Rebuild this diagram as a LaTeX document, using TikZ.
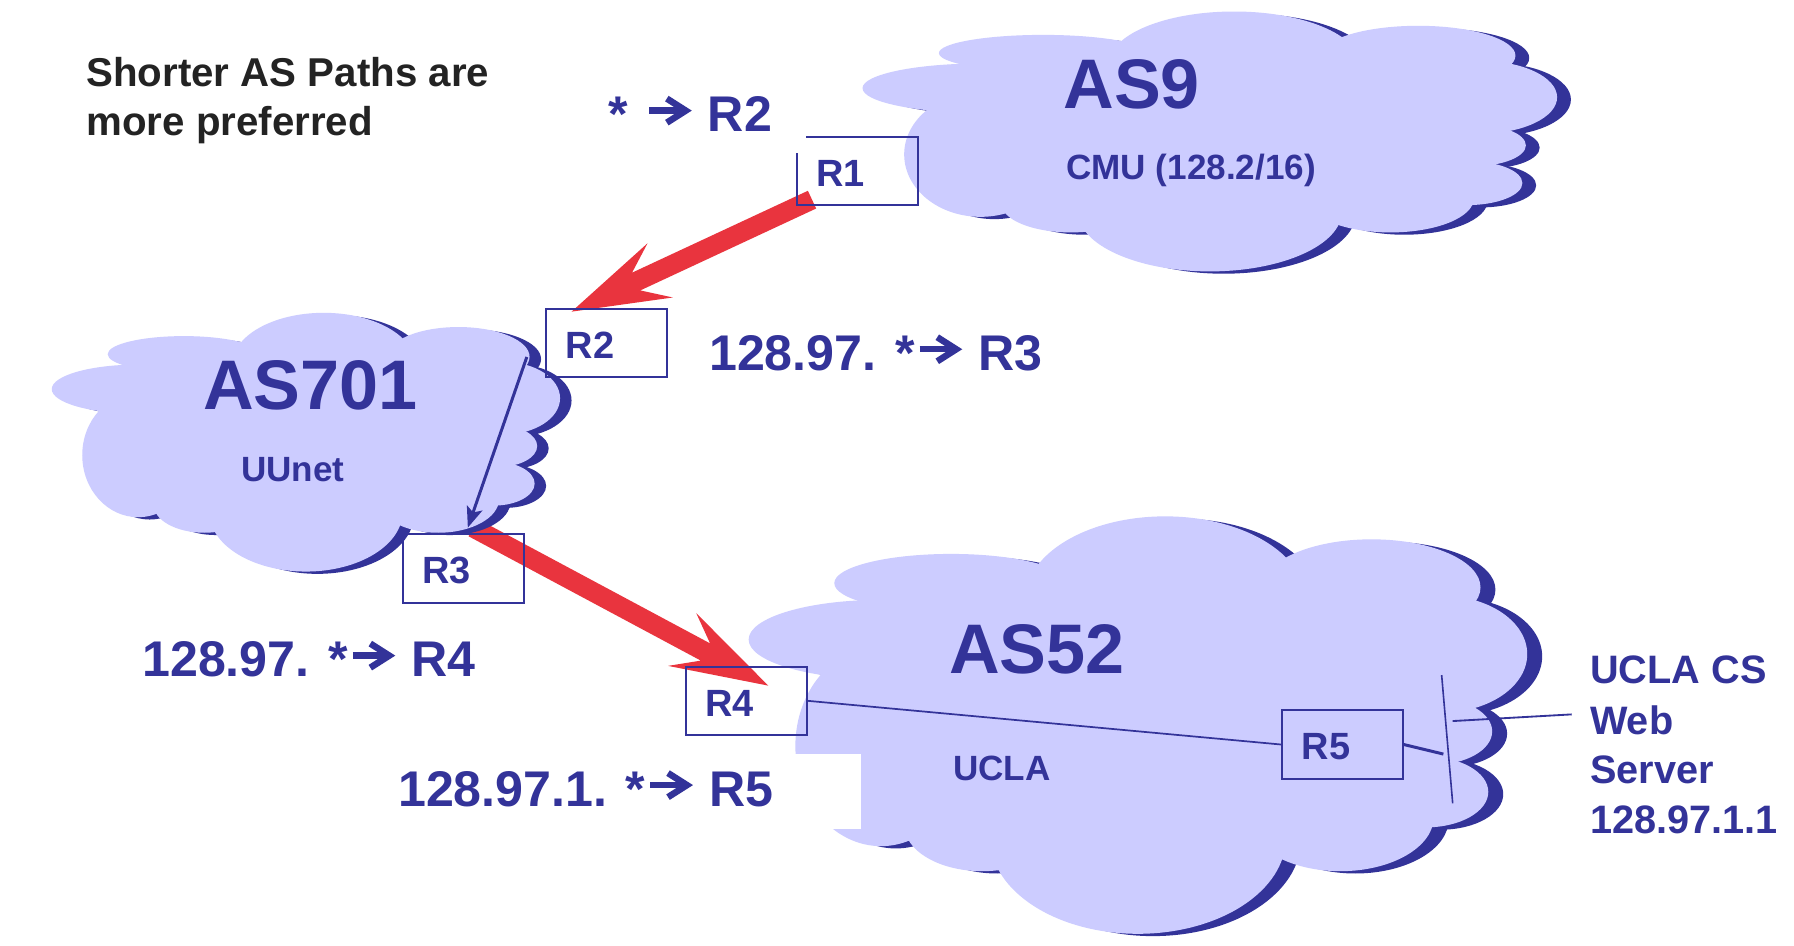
\documentclass[tikz,border=0pt]{standalone}
\usepackage{fontspec}
\setmainfont{Liberation Sans}
\usetikzlibrary{calc,arrows.meta}
\definecolor{asblue}{RGB}{51,51,153}
\definecolor{cloudfill}{RGB}{204,204,255}
\definecolor{redc}{RGB}{233,52,62}
\definecolor{notec}{RGB}{35,35,35}
\pgfdeclarelayer{bg}
\pgfdeclarelayer{arr}
\pgfsetlayers{bg,arr,main}

% chevron arrow used in the routing labels
\newcommand{\rarr}{\hspace{0.04em}\tikz[baseline=0pt]{%
  \draw[draw=asblue,line width=0.125em,line cap=butt] (0em,0.42em) -- (0.70em,0.42em);
  \draw[draw=asblue,line width=0.13em,line cap=butt,line join=miter,miter limit=20] (0.35em,0.66em) -- (0.727em,0.42em) -- (0.35em,0.18em);}\hspace{0.1em}}

% cloud made of lobes, in a box X,Y,W,H (y downwards)
\newcommand{\lobe}[4]{\fill ({\cX+#1*\cW},{\cY+#2*\cH}) ellipse [x radius={#3*\cW*1pt}, y radius={#4*\cH*1pt}];}
\newcommand{\cloudpath}[4]{%
  \def\cX{#1}\def\cY{#2}\def\cW{#3}\def\cH{#4}%
  \lobe{0.17}{0.295}{0.17}{0.095}
  \lobe{0.26}{0.16}{0.15}{0.07}
  \lobe{0.535}{0.20}{0.18}{0.20}
  \lobe{0.80}{0.17}{0.14}{0.115}
  \lobe{0.89}{0.33}{0.11}{0.14}
  \lobe{0.88}{0.515}{0.075}{0.08}
  \lobe{0.87}{0.66}{0.08}{0.085}
  \lobe{0.76}{0.72}{0.12}{0.13}
  \lobe{0.50}{0.77}{0.19}{0.23}
  \lobe{0.30}{0.74}{0.10}{0.11}
  \lobe{0.17}{0.55}{0.11}{0.24}
  \fill ({\cX+0.17*\cW},{\cY+0.295*\cH}) -- ({\cX+0.26*\cW},{\cY+0.16*\cH})
     -- ({\cX+0.535*\cW},{\cY+0.20*\cH}) -- ({\cX+0.80*\cW},{\cY+0.17*\cH})
     -- ({\cX+0.89*\cW},{\cY+0.33*\cH}) -- ({\cX+0.88*\cW},{\cY+0.515*\cH})
     -- ({\cX+0.87*\cW},{\cY+0.66*\cH}) -- ({\cX+0.76*\cW},{\cY+0.72*\cH})
     -- ({\cX+0.50*\cW},{\cY+0.77*\cH}) -- ({\cX+0.30*\cW},{\cY+0.74*\cH})
     -- ({\cX+0.17*\cW},{\cY+0.55*\cH}) -- cycle;}
\newcommand{\drawcloud}[5]{%
  \begin{scope}[shift={(#5,2)},fill=asblue]\cloudpath{#1}{#2}{#3}{#4}\end{scope}
  \begin{scope}[fill=cloudfill]\cloudpath{#1}{#2}{#3}{#4}\end{scope}}

% thick red arrow from tail #1 to tip #2
\newcommand{\redarrow}[2]{%
  \fill[redc] (#2) -- ($(#2)!85pt!(#1)!26pt!90:(#2)$) -- ($(#2)!62pt!(#1)!8.5pt!90:(#2)$)
    -- ($(#1)!8.5pt!90:(#2)$) -- ($(#1)!8.5pt!-90:(#2)$)
    -- ($(#2)!62pt!(#1)!8.5pt!-90:(#2)$) -- ($(#2)!85pt!(#1)!26pt!-90:(#2)$) -- cycle;}

\begin{document}
\begin{tikzpicture}[x=1pt,y=-1pt,
  rbox/.style={draw=asblue, line width=1.7pt, anchor=north west, inner xsep=17pt, inner ysep=0pt,
    text width=71pt, text height=43pt, text depth=16.5pt, align=left, text=asblue,
    font=\fontsize{33}{37}\selectfont\bfseries},
  notetext/.style={anchor=base west, inner sep=0pt, text=notec, font=\fontsize{35}{40}\selectfont\bfseries},
  route/.style={anchor=base west, inner sep=0pt, text=asblue, font=\fontsize{43.6}{50}\selectfont\bfseries},
  aslabel/.style={anchor=base west, inner sep=0pt, text=asblue, font=\fontsize{61}{68}\selectfont\bfseries},
  sublabel/.style={anchor=base west, inner sep=0pt, text=asblue, font=\fontsize{30.5}{34}\selectfont\bfseries},
  srvtext/.style={anchor=base west, inner sep=0pt, text=asblue, font=\fontsize{34.5}{40}\selectfont\bfseries},
  thinline/.style={draw=asblue, line width=1.5pt}
]
\useasboundingbox (0,0) rectangle (1560,822.6);

% routers
\node[rbox] (R1) at (692,118.3) {R1};
\node[rbox] (R2) at (474.2,267.5) {R2};
\node[rbox] (R3) at (349.4,463.8) {R3};
\node[rbox] (R4) at (595.6,578.8) {R4};
\node[rbox] (R5) at (1114,616.8) {R5};

% free ends
\coordinate (a1s) at ($(R1.south west)+(14.1,-5.9)$);
\coordinate (a1t) at ($(R2.north west)+(22.8,3.5)$);
\coordinate (a2s) at ($(R3.north west)+(62,-5)$);
\coordinate (a2t) at ($(R4.north west)+(72.5,17.4)$);
\coordinate (b1s) at ($(R2.south west)+(-16.1,-18.3)$);
\coordinate (b1t) at ($(R3.north west)+(57.4,-5)$);
\coordinate (lanlink) at (1255.1,655.7);
\coordinate (lantop) at (1253.6,587);
\coordinate (lanbot) at (1263.2,698.5);
\coordinate (srvA) at (1263.2,627);
\coordinate (srvB) at (1366.7,621.2);

\begin{pgfonlayer}{bg}
  \fill[white] (0,0) rectangle (1560,822.6);
  \redarrow{a1s}{a1t}
  \redarrow{a2s}{a2t}
  \drawcloud{750}{10}{604}{226}{12}
  \drawcloud{45}{272}{442}{225}{10}
  \drawcloud{651}{449}{677}{363}{13}
  \fill[white] (680,655.7) rectangle (748.4,720.5);
\end{pgfonlayer}

\begin{pgfonlayer}{arr}
  \draw[draw=asblue, line width=2.6pt, -{Stealth[length=18pt, width=14pt, inset=4pt]}] (b1s) -- (b1t);
\end{pgfonlayer}

% network lines
\draw[thinline] (R4.east) -- (R5.west);
\draw[draw=asblue, line width=2.6pt] (R5.east) -- (lanlink);
\draw[draw=asblue, line width=1.4pt] (lantop) -- (lanbot);
\draw[draw=asblue, line width=1.6pt] (srvA) -- (srvB);

% gap at the corner of R1
\fill[white] (684,110) rectangle (701,133);

% texts
\node[notetext] (note1) at (75,74.8) {Shorter AS Paths are};
\node[notetext] (note2) at (75,117.4) {more preferred};
\node[route] (rt2) at (529,114.5) {*\hspace{0.32em}\rarr{} R2};
\node[route] (rt3) at (616.5,322) {128.97. *\rarr{} R3};
\node[route] (rt4) at (123.5,588.4) {128.97. *\rarr{} R4};
\node[route] (rt5) at (346,701) {128.97.1. *\rarr{} R5};
\node[aslabel] (as9) at (924.6,94.2) {AS9};
\node[sublabel] (cmu) at (927,156.5) {CMU (128.2/16)};
\node[aslabel] (as701) at (176.6,356.5) {AS701};
\node[sublabel] (uunet) at (209.6,418.9) {UUnet};
\node[aslabel] (as52) at (825.3,585.5) {AS52};
\node[sublabel] (ucla) at (828.5,678.3) {UCLA};
\node[srvtext] (srv1) at (1382.6,594.2) {UCLA CS};
\node[srvtext] (srv2) at (1382.6,638.5) {Web};
\node[srvtext] (srv3) at (1382.6,681.5) {Server};
\node[srvtext] (srv4) at (1382.6,725) {128.97.1.1};
\end{tikzpicture}
\end{document}
